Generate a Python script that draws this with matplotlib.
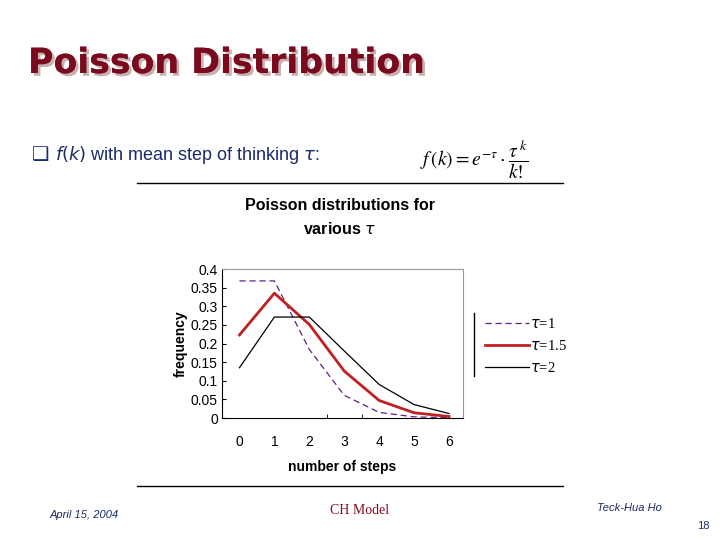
import matplotlib
matplotlib.use("Agg")
import matplotlib.pyplot as plt
import matplotlib.patheffects as pe

steps = [0, 1, 2, 3, 4, 5, 6]
tau1 = [0.368, 0.368, 0.184, 0.061, 0.015, 0.003, 0.001]
tau15 = [0.223, 0.335, 0.251, 0.126, 0.047, 0.014, 0.004]
tau2 = [0.135, 0.271, 0.271, 0.180, 0.090, 0.036, 0.012]
yticks = [0, 0.05, 0.1, 0.15, 0.2, 0.25, 0.3, 0.35, 0.4]
ylabels = ["0", "0.05", "0.1", "0.15", "0.2", "0.25", "0.3", "0.35", "0.4"]

fig = plt.figure(figsize=(7.2, 5.4), dpi=100)
W, H = 720, 540
def fx(x): return x / W
def fy(y): return 1 - y / H

fig.text(fx(28), fy(63), "Poisson Distribution", fontsize=25, fontweight="bold",
         color="#7a0a1e", va="center", ha="left", family="DejaVu Sans",
         path_effects=[pe.withSimplePatchShadow(offset=(2, -2), shadow_rgbFace="#c8b0b0", alpha=1), pe.Normal()])
fig.text(fx(32), fy(155), "\u2751", fontsize=14, color="#1a2a7a", va="center", ha="left")
fig.text(fx(55), fy(155), r"$f(k)$ with mean step of thinking $\tau$:", fontsize=13, color="#1a2a6a",
         va="center", ha="left", family="Liberation Sans")
fig.text(fx(420), fy(160), r"$f\,(k)=e^{-\tau}\cdot\dfrac{\tau^{\,k}}{k!}$", fontsize=14, color="black",
         va="center", ha="left", math_fontfamily="stix")
fig.add_artist(plt.Line2D([fx(137), fx(563)], [fy(183), fy(183)], color="black", lw=1))
fig.add_artist(plt.Line2D([fx(137), fx(563)], [fy(486), fy(486)], color="black", lw=1))

fig.text(fx(340), fy(206), "Poisson distributions for", fontsize=11.5, fontweight="bold",
         ha="center", va="center", family="Liberation Sans")
fig.text(fx(340), fy(229), r"various $\tau$", fontsize=11.5, fontweight="bold",
         ha="center", va="center", family="Liberation Sans")

ax = fig.add_axes([fx(222), fy(418), fx(463) - fx(222), fy(269) - fy(418)])
l1, = ax.plot(steps, tau1, color="#602080", lw=0.9, ls=(0, (5, 3)))
l2, = ax.plot(steps, tau15, color="#c02020", lw=2)
l3, = ax.plot(steps, tau2, color="black", lw=0.9)
ax.set_xlim(-0.5, 6.4)
ax.set_ylim(0, 0.4)
ax.set_yticks(yticks)
ax.set_yticklabels(ylabels, family="Liberation Sans", fontsize=10)
ax.set_xticks(steps)
ax.set_xticklabels([str(s) for s in steps], family="Liberation Sans", fontsize=10)
ax.tick_params(axis="x", length=0, pad=12)
ax.tick_params(axis="y", length=3, direction="in", pad=3)
ax.set_xticks([2.5, 3.5], minor=True)
ax.tick_params(axis="x", which="minor", length=3, direction="in")
for s in ["top", "right"]:
    ax.spines[s].set_color("#999999")
ax.set_ylabel("frequency", fontsize=10, fontweight="bold", family="Liberation Sans", labelpad=2)
ax.set_xlabel("number of steps", fontsize=10, fontweight="bold", family="Liberation Sans", labelpad=8)

leg = fig.legend([l1, l2, l3], [r"$\tau$=1", r"$\tau$=1.5", r"$\tau$=2"], loc="center left",
                 bbox_to_anchor=(fx(472), fy(346)), frameon=False,
                 handlelength=3.0, handletextpad=0.1, labelspacing=0.55,
                 prop={"family": "Liberation Serif", "size": 10.5})
fig.add_artist(plt.Line2D([fx(474), fx(474)], [fy(313), fy(376)], color="black", lw=1))

fig.text(fx(50), fy(515), "April 15, 2004", fontsize=8, style="italic", color="#1a2a6a", va="center",
         family="Liberation Sans")
fig.text(fx(360), fy(511), "CH Model", fontsize=10, color="#8a0a1e", va="center", ha="center",
         family="Liberation Serif")
fig.text(fx(597), fy(508), "Teck-Hua Ho", fontsize=8, style="italic", color="#1a2a6a", va="center",
         family="Liberation Sans")
fig.text(fx(710), fy(526), "18", fontsize=8, color="#1a2a6a", va="center", ha="right",
         family="Liberation Sans")

fig.savefig("out.png", dpi=100)
